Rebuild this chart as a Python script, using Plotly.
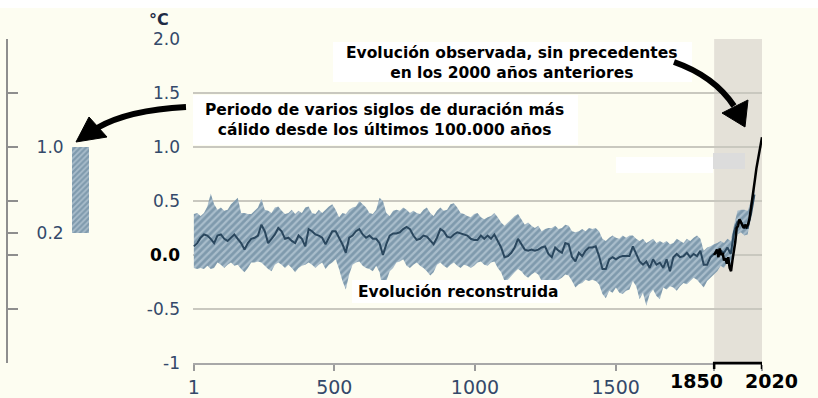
import plotly.graph_objects as go

# ---------------- data ----------------
years = list(range(1, 1994, 12))  # reconstruction time axis (1..1993)

recon_mid = [
    0.08, 0.11, 0.16, 0.19, 0.18, 0.15, 0.11, 0.18, 0.19, 0.15, 0.13, 0.16, 0.19, 0.15, 0.11, 0.05, 0.11, 0.15, 0.16, 0.18,
    0.28, 0.22, 0.11, 0.15, 0.19, 0.25, 0.22, 0.15, 0.16, 0.13, 0.11, 0.18, 0.15, 0.08, 0.24, 0.22, 0.19, 0.18, 0.16, 0.10,
    0.16, 0.22, 0.22,
    0.16, 0.10, 0.02, 0.16, 0.18, 0.22, 0.24, 0.19, 0.16, 0.18, 0.15, 0.15, 0.11, 0.00, 0.10, 0.18, 0.20, 0.20, 0.21, 0.24,
    0.26, 0.24, 0.18, 0.14, 0.15, 0.18, 0.17, 0.13, 0.10, 0.16, 0.24, 0.22, 0.17, 0.16, 0.19, 0.21, 0.20, 0.19, 0.18, 0.15,
    0.14, 0.14,
    0.18, 0.15, 0.18, 0.15, 0.19, 0.13, 0.07, -0.02, -0.01, 0.02, 0.07, 0.15, 0.10, 0.05, 0.04, 0.05, 0.04, 0.05, 0.07, 0.08,
    0.01, -0.02, 0.07, 0.04, 0.02, 0.11, 0.10, -0.02, -0.06, 0.02, -0.01, 0.04, 0.07, 0.07, 0.08, -0.01, -0.13, -0.13, -0.04, -0.02,
    -0.04, -0.02, -0.01, -0.01, -0.01,
    0.08, 0.01, -0.06, -0.09, -0.06, -0.12, -0.04, -0.09, -0.07, -0.12, -0.04, -0.15, -0.02, 0.01, -0.02, -0.01, 0.02, -0.02, 0.01, -0.01,
    0.04, -0.09, -0.09, -0.02, 0.01, 0.02, 0.04, 0.02, 0.07, 0.01, 0.22, 0.31, 0.31, 0.25, 0.25, 0.38, 0.56,
]

recon_high = [
    0.38, 0.39, 0.36, 0.39, 0.45, 0.57, 0.47, 0.42, 0.44, 0.41, 0.42, 0.47, 0.50, 0.53, 0.39, 0.39, 0.38, 0.38, 0.41, 0.44,
    0.52, 0.42, 0.41, 0.39, 0.44, 0.45, 0.41, 0.38, 0.39, 0.42, 0.38, 0.41, 0.39, 0.44, 0.45, 0.39, 0.38, 0.42, 0.39, 0.42,
    0.45, 0.47, 0.42,
    0.35, 0.39, 0.38, 0.42, 0.44, 0.45, 0.50, 0.47, 0.44, 0.39, 0.38, 0.42, 0.53, 0.50, 0.39, 0.36, 0.41, 0.42, 0.41, 0.44,
    0.42, 0.39, 0.41, 0.39, 0.38, 0.42, 0.44, 0.39, 0.36, 0.41, 0.44, 0.41, 0.42, 0.47, 0.48, 0.44, 0.39, 0.38, 0.36, 0.35,
    0.38, 0.39,
    0.35, 0.33, 0.35, 0.36, 0.39, 0.35, 0.30, 0.27, 0.30, 0.33, 0.36, 0.38, 0.33, 0.28, 0.30, 0.27, 0.25, 0.27, 0.22, 0.24,
    0.25, 0.25, 0.27, 0.24, 0.25, 0.28, 0.27, 0.22, 0.21, 0.22, 0.24, 0.22, 0.25, 0.24, 0.25, 0.22, 0.15, 0.13, 0.16, 0.18,
    0.16, 0.15, 0.18, 0.16, 0.18,
    0.18, 0.15, 0.13, 0.15, 0.11, 0.13, 0.15, 0.11, 0.13, 0.11, 0.13, 0.10, 0.11, 0.15, 0.13, 0.11, 0.15, 0.13, 0.16, 0.18,
    0.15, 0.04, 0.07, 0.08, 0.10, 0.11, 0.13, 0.11, 0.15, 0.13, 0.28, 0.41, 0.42, 0.42, 0.41, 0.50, 0.69,
]

recon_low = [
    -0.12, -0.13, -0.12, -0.13, -0.10, -0.13, -0.12, -0.07, -0.09, -0.12, -0.09, -0.07, -0.10, -0.09, -0.13, -0.16, -0.12, -0.07, -0.07, -0.06,
    -0.07, -0.10, -0.13, -0.15, -0.09, -0.07, -0.09, -0.12, -0.09, -0.12, -0.16, -0.12, -0.10, -0.09, -0.07, -0.09, -0.12, -0.09, -0.07, -0.13,
    -0.09, -0.07, -0.04,
    -0.13, -0.24, -0.32, -0.18, -0.09, -0.07, -0.06, -0.10, -0.12, -0.13, -0.15, -0.10, -0.16, -0.33, -0.24, -0.15, -0.12, -0.07, -0.06, -0.04,
    -0.10, -0.12, -0.09, -0.07, -0.10, -0.12, -0.15, -0.19, -0.16, -0.09, -0.07, -0.10, -0.12, -0.09, -0.07, -0.10, -0.12, -0.09, -0.10, -0.12,
    -0.10, -0.07,
    -0.06, -0.09, -0.10, -0.07, -0.06, -0.12, -0.16, -0.24, -0.23, -0.19, -0.16, -0.13, -0.15, -0.19, -0.21, -0.18, -0.16, -0.18, -0.24, -0.23,
    -0.26, -0.30, -0.24, -0.23, -0.21, -0.18, -0.19, -0.24, -0.30, -0.27, -0.26, -0.23, -0.24, -0.23, -0.24, -0.27, -0.36, -0.40, -0.33, -0.35,
    -0.30, -0.35, -0.36, -0.33, -0.32,
    -0.24, -0.29, -0.41, -0.35, -0.47, -0.36, -0.32, -0.38, -0.41, -0.30, -0.32, -0.29, -0.30, -0.33, -0.29, -0.26, -0.27, -0.24, -0.21, -0.23,
    -0.27, -0.30, -0.24, -0.21, -0.18, -0.15, -0.10, -0.12, -0.07, -0.09, 0.04, 0.19, 0.21, 0.18, 0.19, 0.35, 0.53,
]

obs_years = [1850, 1855, 1860, 1865, 1870, 1875, 1880, 1885, 1890, 1895, 1900, 1905, 1910, 1915, 1920,
             1925, 1930, 1935, 1940, 1945, 1950, 1955, 1960, 1965, 1970, 1975, 1980, 1985, 1990, 1995,
             2000, 2005, 2010, 2015, 2020]
obs_values = [0.00, 0.03, 0.05, -0.02, 0.06, 0.00, 0.02, -0.05, -0.03, -0.08, -0.02, -0.12, -0.15, -0.05, 0.02,
              0.12, 0.25, 0.27, 0.33, 0.30, 0.27, 0.25, 0.28, 0.26, 0.28, 0.33, 0.42, 0.50, 0.62, 0.70,
              0.80, 0.88, 0.95, 1.03, 1.09]

warm_low, warm_high = 0.2, 1.0          # warmest multi-century period in 100,000 years
obs_period = [1850, 2020]

x_tickvals = [1, 500, 1000, 1500, 1850, 2020]
x_ticktext = ["1", "500", "1000", "1500", "", ""]
period_labels = ["1850", "2020"]
y_tickvals = [-1, -0.5, 0, 0.5, 1, 1.5, 2]
y_ticktext = ["-1", "-0.5", "<b><span style='color:#000000'>0.0</span></b>", "0.5", "1.0", "1.5", "2.0"]
left_tickvals = [-1, -0.5, 0, 0.2, 0.5, 1, 1.5, 2]
left_ticktext = ["", "", "", "0.2", "", "1.0", "", ""]

# ---------------- layout helpers ----------------
W, H = 818, 398
ML, MR, MT, MB = 8, 56, 39, 35
PW, PH = W - ML - MR, H - MT - MB


def px(x):
    return (x - ML) / PW


def py(y):
    return (H - MB - y) / PH


BG = "#fdfdf1"
LABEL = "#34496a"
BAND_BG = "#a9bdcb"
BAND_FG = "#56778f"
MID = "#2a475e"

fig = go.Figure()

fig.add_trace(go.Scatter(x=years, y=recon_high, mode="lines", line=dict(width=0, color=BAND_FG),
                         hoverinfo="skip", showlegend=False))
fig.add_trace(go.Scatter(x=years, y=recon_low, mode="lines", line=dict(width=0, color=BAND_FG),
                         fill="tonexty", fillcolor=BAND_BG,
                         fillpattern=dict(shape="/", fgcolor=BAND_FG, bgcolor=BAND_BG, size=5, solidity=0.55),
                         hoverinfo="skip", showlegend=False))
fig.add_trace(go.Scatter(x=years, y=recon_mid, mode="lines", line=dict(width=2, color=MID), showlegend=False))
fig.add_trace(go.Scatter(x=obs_years, y=obs_values, mode="lines", line=dict(width=2.5, color="#000000"),
                         showlegend=False))

# left panel bar
fig.add_trace(go.Bar(x=[72.5], y=[warm_high - warm_low], base=[warm_low], width=[17],
                     xaxis="x2", yaxis="y2", showlegend=False,
                     marker=dict(color=BAND_BG, line=dict(width=0),
                                 pattern=dict(shape="/", fgcolor=BAND_FG, bgcolor=BAND_BG, size=4, solidity=0.55))))

shapes = []
# top white strip
shapes.append(dict(type="rect", xref="paper", yref="paper", x0=px(0), x1=px(W), y0=py(8), y1=py(0),
                   fillcolor="white", line=dict(width=0), layer="below"))
# observed period grey band
shapes.append(dict(type="rect", xref="x", yref="paper", x0=obs_period[0], x1=obs_period[1], y0=0, y1=1,
                   fillcolor="#e4e1d8", line=dict(width=0), layer="below"))
# black bracket on axis
shapes.append(dict(type="path", xref="x", yref="paper",
                   path=f"M {obs_period[0]},{-6/PH} L {obs_period[0]},0 L {obs_period[1]},0 L {obs_period[1]},{-6/PH}",
                   line=dict(color="black", width=2.5), layer="above"))
# white boxes behind texts
for (x0, y0, x1, y1) in [(333, 42, 692, 82), (193, 95, 578, 145), (352, 280, 560, 303), (616, 157, 713, 173)]:
    shapes.append(dict(type="rect", xref="paper", yref="paper", x0=px(x0), x1=px(x1), y0=py(y1), y1=py(y0),
                       fillcolor="white", line=dict(width=0), layer="above"))
shapes.append(dict(type="rect", xref="paper", yref="paper", x0=px(713), x1=px(745), y0=py(169), y1=py(153),
                   fillcolor="#dcdcdc", line=dict(width=0), layer="above"))


def P(x, y):
    return f"{px(x):.5f},{py(y):.5f}"


# right curved arrow
shapes.append(dict(type="path", xref="paper", yref="paper",
                   path=f"M {P(674, 62)} Q {P(714, 76)} {P(734, 106)}",
                   line=dict(color="black", width=6), layer="above"))
shapes.append(dict(type="path", xref="paper", yref="paper",
                   path=f"M {P(745, 127)} L {P(722, 113)} L {P(748, 100)} Z",
                   fillcolor="black", line=dict(color="black", width=1), layer="above"))
# left curved arrow
shapes.append(dict(type="path", xref="paper", yref="paper",
                   path=f"M {P(186, 107)} Q {P(128, 110)} {P(97, 128)}",
                   line=dict(color="black", width=6), layer="above"))
shapes.append(dict(type="path", xref="paper", yref="paper",
                   path=f"M {P(76, 142)} L {P(89, 117)} L {P(107, 137)} Z",
                   fillcolor="black", line=dict(color="black", width=1), layer="above"))

TXT = dict(family="DejaVu Sans", size=15.5, color="black", weight="bold")
C = dict(xref="paper", yref="paper", showarrow=False, xanchor="center", yanchor="middle", align="center")
annotations = [
    dict(text="Evolución observada, sin precedentes<br>en los 2000 años anteriores",
         x=px(512), y=py(63), font=TXT, **C),
    dict(text="Periodo de varios siglos de duración más<br>cálido desde los últimos 100.000 años",
         x=px(384), y=py(120), font=TXT, **C),
    dict(text="Evolución reconstruida", x=px(458), y=py(292), font=TXT, **C),
    dict(text="<b>°C</b>", x=px(159), y=py(20), font=dict(family="DejaVu Sans", size=16, color="#1e2a44"), **C),
]
# bold period labels under the bracket (spread apart as in the original)
for lab, cx in zip(period_labels, [696, 772]):
    annotations.append(dict(text=f"<b>{lab}</b>", x=px(cx), y=py(381),
                            font=dict(family="DejaVu Sans", size=19, color="black"), **C))

fig.update_layout(
    width=W, height=H,
    margin=dict(l=ML, r=MR, t=MT, b=MB, pad=0, autoexpand=False),
    paper_bgcolor=BG, plot_bgcolor=BG,
    shapes=shapes, annotations=annotations,
    showlegend=False, bargap=0,
    xaxis=dict(domain=[px(193), 1], range=[-2, 2020], tickvals=x_tickvals, ticktext=x_ticktext,
               ticks="outside", ticklen=6, tickwidth=1.5, tickcolor="#9a9a9a", tickangle=0, automargin=False,
               showline=True, linecolor="#a8a8a8", linewidth=2, showgrid=False, zeroline=False,
               tickfont=dict(family="DejaVu Sans", size=19, color=LABEL)),
    yaxis=dict(domain=[0, 1], range=[-1, 2], tickvals=y_tickvals, ticktext=y_ticktext, automargin=False,
               showgrid=True, gridcolor="#c9c8bf", gridwidth=1.5, zeroline=False, showline=False,
               ticks="", ticklabelstandoff=12,
               tickfont=dict(family="DejaVu Sans", size=17, color=LABEL)),
    xaxis2=dict(domain=[0, 0.14], range=[0, 105], visible=False, anchor="y2"),
    yaxis2=dict(domain=[0, 1], range=[-1, 2], anchor="x2", tickvals=left_tickvals, ticktext=left_ticktext,
                showgrid=False, zeroline=False, showline=True, linecolor="#8e8e8e", linewidth=2, automargin=False,
                ticks="inside", ticklen=10, tickwidth=1.5, tickcolor="#8e8e8e",
                ticklabelposition="inside", ticklabelstandoff=19,
                tickfont=dict(family="DejaVu Sans", size=17, color=LABEL)),
)

fig.write_html("out.html", config={"displayModeBar": False},
               post_script="document.body.style.margin='0';")
